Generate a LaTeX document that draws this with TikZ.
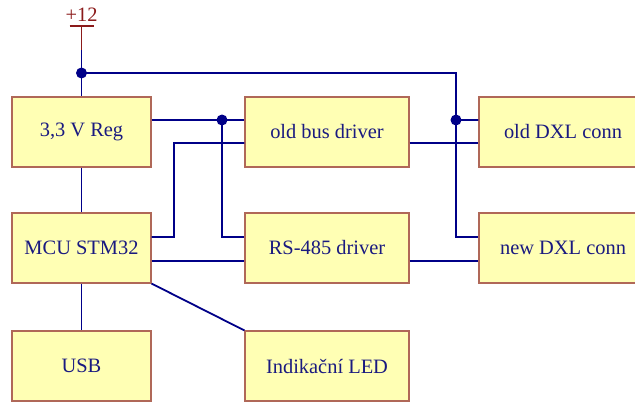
\documentclass[tikz,border=0pt]{standalone}
\usepackage{fontspec}
\setmainfont{Liberation Serif}
\definecolor{boxfill}{HTML}{FFFFB4}
\definecolor{boxline}{HTML}{B06858}
\definecolor{wirec}{HTML}{000088}
\definecolor{textc}{HTML}{1A1A80}
\definecolor{pwrc}{HTML}{8B1A1A}
\begin{document}
\begin{tikzpicture}[x=1bp,y=-1bp,
  blk/.style={draw=boxline,fill=boxfill,line width=1.1bp,inner sep=0pt,
    minimum height=70bp,text=textc,font=\fontsize{20.5}{24}\selectfont},
  nblk/.style={blk,minimum width=139bp},
  wblk/.style={blk,minimum width=164bp},
  rblk/.style={blk,minimum width=168bp},
  wire/.style={draw=wirec,line width=1.8bp},
  pwr/.style={draw=pwrc,line width=1.9bp},
  dot/.style={circle,fill=wirec,inner sep=0pt,minimum size=11bp}]
\useasboundingbox (0,0) rectangle (635,401);
\clip (0,0) rectangle (635,401);
% nodes
\node[nblk] (reg) at (81.5,132) {3,3 V Reg};
\node[wblk] (obd) at (327,132) {old bus driver};
\node[rblk] (odxl) at (563,132) {old DXL conn};
\node[nblk] (mcu) at (81.5,248) {MCU STM32};
\node[wblk] (rs) at (327,248) {RS-485 driver};
\node[rblk] (ndxl) at (563,248) {new DXL conn};
\node[nblk] (usb) at (81.5,366) {USB};
\node[wblk] (led) at (327,366) {Indikační LED};
% power symbol
\node[text=pwrc,font=\fontsize{20.5}{24}\selectfont,inner sep=0pt] (plus) at (81.5,15) {+12};
\coordinate (pbar) at (81.5,26);
\coordinate (pl) at (69.5,26);
\coordinate (pr) at (93.5,26);
\coordinate (p50) at (81.5,50);
\coordinate (j1) at (81.5,73);
\coordinate (c1) at (456,73);
\coordinate (j2) at (222,120);
\coordinate (j3) at (456,120);
\coordinate (k) at (174,143);
\draw[pwr] (pl) -- (pr);
\draw[pwr] (pbar) -- (p50);
% wires
\draw[wire] (p50) -- (reg.north);
\draw[wire] (j1) -- (c1) |- ([yshift=11bp]ndxl.west);
\draw[wire] (j3) -- ([yshift=12bp]odxl.west);
\draw[wire] ([yshift=12bp]reg.east) -- ([yshift=12bp]obd.west);
\draw[wire] (j2) |- ([yshift=11bp]rs.west);
\draw[wire] ([yshift=11bp]mcu.east) -| (k) -- ([yshift=-11bp]obd.west);
\draw[wire] ([yshift=-13bp]mcu.east) -- ([yshift=-13bp]rs.west);
\draw[wire] ([yshift=-11bp]obd.east) -- ([yshift=-11bp]odxl.west);
\draw[wire] ([yshift=-13bp]rs.east) -- ([yshift=-13bp]ndxl.west);
\draw[wire] (reg.south) -- (mcu.north);
\draw[wire] (mcu.south) -- (usb.north);
\draw[wire] (mcu.south east) -- (led.north west);
% junctions
\node[dot] (d1) at (j1) {};
\node[dot] (d2) at (j2) {};
\node[dot] (d3) at (j3) {};
\end{tikzpicture}
\end{document}
